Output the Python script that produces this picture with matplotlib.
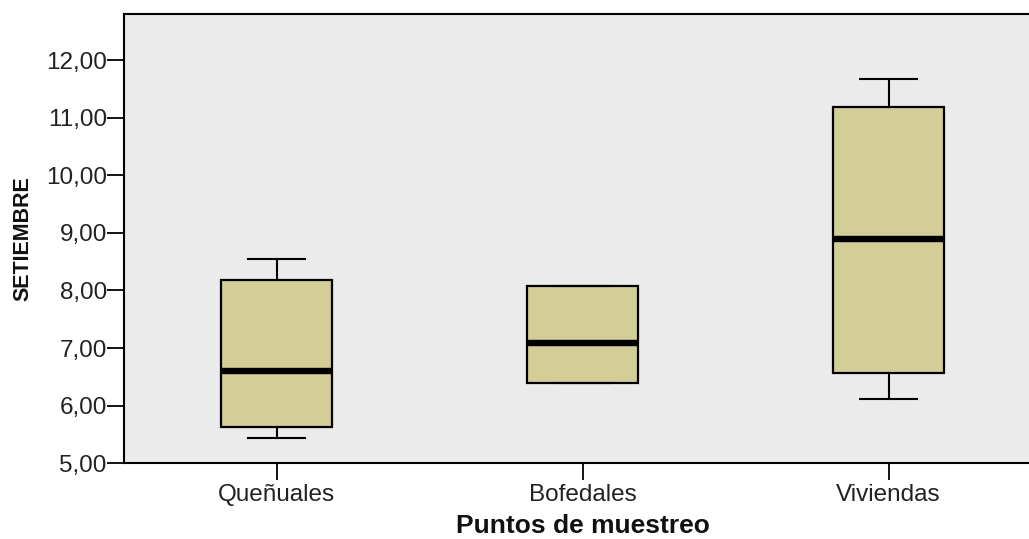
import matplotlib
matplotlib.use("Agg")
import matplotlib.pyplot as plt
from matplotlib.ticker import FuncFormatter

categories = ["Queñuales", "Bofedales", "Viviendas"]
whislo = [5.44, 6.39, 6.11]
q1 = [5.625, 6.39, 6.56]
med = [6.60, 7.09, 8.89]
q3 = [8.18, 8.07, 11.18]
whishi = [8.55, 8.07, 11.67]
yticks = [5, 6, 7, 8, 9, 10, 11, 12]

plt.rcParams['font.family'] = ['Liberation Sans', 'DejaVu Sans']

fig = plt.figure(figsize=(10.29, 5.39), dpi=100)
ax = fig.add_axes([123.5 / 1029, 1 - 463.3 / 539, 918 / 1029, (463.3 - 14) / 539])
ax.set_facecolor('#EBEBEB')

stats = []
for i, c in enumerate(categories):
    stats.append(dict(label=c, whislo=whislo[i], q1=q1[i], med=med[i],
                      q3=q3[i], whishi=whishi[i], fliers=[]))

ax.bxp(stats, positions=[1, 2, 3], widths=0.36, patch_artist=True,
       showfliers=False, capwidths=0.186,
       boxprops=dict(facecolor='#D3CE97', edgecolor='black', linewidth=1.6),
       medianprops=dict(color='black', linewidth=4.6, solid_capstyle='butt'),
       whiskerprops=dict(color='black', linewidth=1.5),
       capprops=dict(color='black', linewidth=1.5))

ax.set_xlim(0.5, 3.5)
ax.set_ylim(5, 12.8)
ax.set_yticks(yticks)
ax.yaxis.set_major_formatter(FuncFormatter(lambda v, p: f"{v:.2f}".replace('.', ',')))
ax.set_xticks([1, 2, 3])
ax.set_xticklabels(categories)

for s in ['left', 'bottom', 'top']:
    ax.spines[s].set_linewidth(1.5)
    ax.spines[s].set_color('black')
ax.spines['right'].set_visible(False)

ax.tick_params(axis='both', length=12, width=1.3, color='black',
               labelsize=17.5, labelcolor='#222222')
ax.tick_params(axis='y', pad=0)
ax.tick_params(axis='x', pad=3)

ax.set_xlabel("Puntos de muestreo", fontsize=19, fontweight='bold',
              color='#111111', labelpad=6)
ax.set_ylabel("SETIEMBRE", fontsize=15.5, fontweight='bold',
              color='#111111', labelpad=9)

fig.savefig("out.png", dpi=100)
